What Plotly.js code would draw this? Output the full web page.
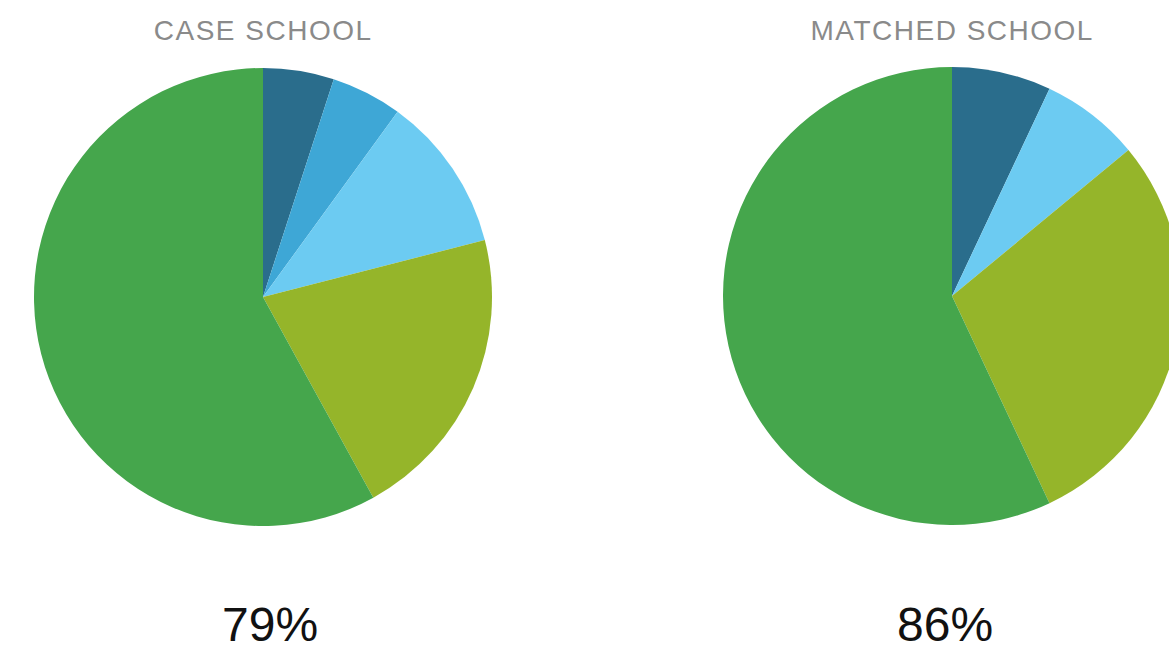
<!DOCTYPE html>
<html>
<head>
<meta charset="utf-8">
<script src="https://cdn.plot.ly/plotly-3.0.1.min.js"></script>
<style>
html,body{margin:0;padding:0;overflow:hidden;background:#fff;width:1169px;height:651px;}
#chart{width:1200px;height:651px;}
</style>
</head>
<body>
<div id="chart"></div>
<script>
// Data
const categories = ["Category 1", "Category 2", "Category 3", "Category 4", "Category 5"];
const caseValues = [5, 5, 11, 21, 58];
const matchedCategories = ["Category 1", "Category 3", "Category 4", "Category 5"];
const matchedValues = [7, 7, 29, 57];
const caseColors = ["#2a6d8c", "#3ea7d6", "#6ccbf2", "#95b52a", "#45a64c"];
const matchedColors = ["#2a6d8c", "#6ccbf2", "#95b52a", "#45a64c"];
const titles = ["CASE SCHOOL", "MATCHED SCHOOL"];
const totals = ["79%", "86%"];

const W = 1200, H = 651;
function dom(cx, cy, r) {
  return {x: [(cx - r) / W, (cx + r) / W], y: [(H - (cy + r)) / H, (H - (cy - r)) / H]};
}

const traces = [
  {type: "pie", labels: categories, values: caseValues, sort: false, direction: "clockwise", rotation: 0,
   marker: {colors: caseColors, line: {width: 0}}, textinfo: "none", hoverinfo: "label+percent",
   domain: dom(263, 297, 229), showlegend: false},
  {type: "pie", labels: matchedCategories, values: matchedValues, sort: false, direction: "clockwise", rotation: 0,
   marker: {colors: matchedColors, line: {width: 0}}, textinfo: "none", hoverinfo: "label+percent",
   domain: dom(952, 296, 229), showlegend: false}
];

const font = "Liberation Sans, Arial, sans-serif";
const annotations = [
  {text: titles[0], x: 263 / W, y: 1 - 30 / H, xref: "paper", yref: "paper", showarrow: false,
   font: {family: font, size: 28, color: "#8a8a8a"}, xanchor: "center", yanchor: "middle"},
  {text: titles[1], x: 952 / W, y: 1 - 30 / H, xref: "paper", yref: "paper", showarrow: false,
   font: {family: font, size: 28, color: "#8a8a8a"}, xanchor: "center", yanchor: "middle"},
  {text: totals[0], x: 270 / W, y: 1 - 624 / H, xref: "paper", yref: "paper", showarrow: false,
   font: {family: font, size: 48, color: "#111111"}, xanchor: "center", yanchor: "middle"},
  {text: totals[1], x: 945 / W, y: 1 - 624 / H, xref: "paper", yref: "paper", showarrow: false,
   font: {family: font, size: 48, color: "#111111"}, xanchor: "center", yanchor: "middle"}
];

Plotly.newPlot("chart", traces, {
  width: W, height: H,
  margin: {l: 0, r: 0, t: 0, b: 0},
  paper_bgcolor: "#ffffff",
  showlegend: false,
  annotations: annotations
}, {displayModeBar: false, staticPlot: true}).then(function () {
  document.querySelectorAll("#chart .annotation-text").forEach(function (el) {
    if (titles.indexOf(el.textContent) >= 0) {
      el.style.letterSpacing = "1.5px";
    }
  });
});
</script>
</body>
</html>
